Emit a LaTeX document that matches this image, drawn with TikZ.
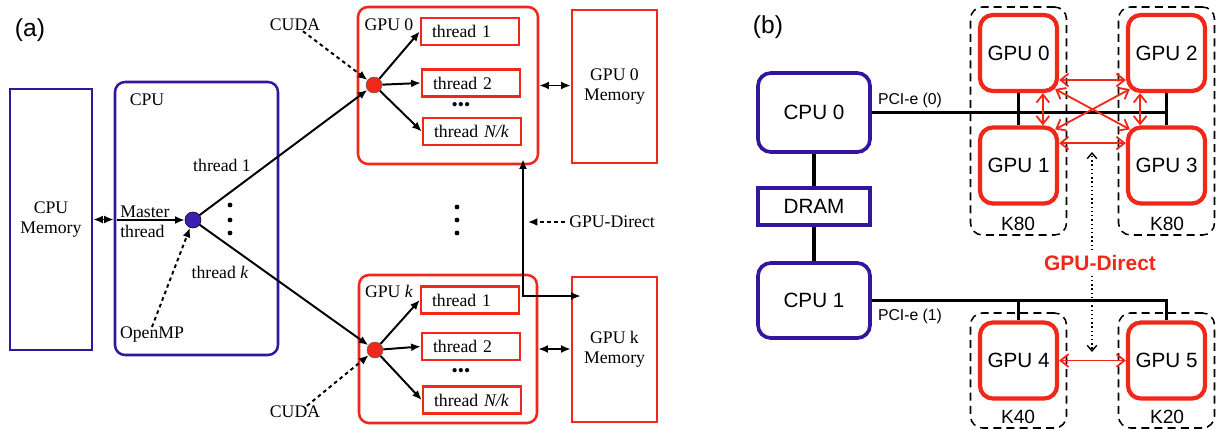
\documentclass[tikz,border=0pt]{standalone}
\usepackage{fontspec}
\setmainfont{Liberation Serif}
\setsansfont{Liberation Sans}
\usetikzlibrary{arrows.meta,calc}
\definecolor{gpured}{RGB}{240,40,25}
\definecolor{cpublue}{RGB}{52,22,158}
\definecolor{dotblue}{RGB}{60,30,180}
\begin{document}
\begin{tikzpicture}[x=0.25mm,y=-0.25mm,
txt/.style={%
font=\fontsize{12.6}{14.5}\selectfont,
inner sep=0pt
},
cpubox/.style={%
draw=cpublue,
line width=1.8pt,
align=center,
txt
},
gpubox/.style={%
draw=gpured,
line width=1.8pt,
align=center,
txt
},
thr/.style={%
gpubox,
text width=19mm,
align=left,
inner xsep=2.75mm,
minimum height=6.75mm
},
cpudot/.style={%
circle,
fill=dotblue,
draw=black,
line width=0.4pt,
minimum size=4mm,
inner sep=0pt
},
gpudot/.style={%
circle,
fill=gpured,
draw=black!60,
line width=0.4pt,
minimum size=4mm,
inner sep=0pt
},
arr/.style={%
line width=1.4pt,
-{Latex[length=2.4mm,width=2mm]}
},
dbl/.style={%
line width=1.4pt,
{Latex[length=2.4mm,width=2mm]}-{Latex[length=2.4mm,width=2mm]}
},
dotarr/.style={%
line width=1.4pt,
dash pattern=on 2.6pt off 2.4pt,
-{Latex[length=2.4mm,width=2mm]}
},
sftxt/.style={%
font=\sffamily\fontsize{14.7}{16}\selectfont,
inner sep=0pt
},
cpub/.style={%
draw=cpublue,
line width=2.6pt,
rounded corners=3.2mm,
minimum width=28mm,
sftxt
},
gpub/.style={%
draw=gpured,
line width=3pt,
rounded corners=3.2mm,
minimum width=19.25mm,
minimum height=19mm,
sftxt
},
card/.style={%
draw,
line width=1.1pt,
dash pattern=on 2mm off 1.3mm,
rounded corners=3mm,
minimum width=24mm
},
bus/.style={%
line width=2.6pt
},
link/.style={%
draw=gpured,
line width=1.3pt,
{Straight Barb[length=2mm,width=3.2mm]}-{Straight Barb[length=2mm,width=3.2mm]}
},
gdline/.style={%
line width=1pt,
dotted,
-{Straight Barb[length=1.4mm,width=2.4mm]}
},
]
\useasboundingbox (0,0) rectangle (1218,430);
%% Panel (a)
\node[font=\sffamily\fontsize{17.5}{20}\selectfont] (alab) at (30,30) {(a)};
%%CPU side
\node[cpubox,minimum width=20.5mm,minimum height=65.25mm] (cpumem) at (51,219.5) {CPU\\Memory};
\node[cpubox,rounded corners=2.5mm,minimum width=40.75mm,minimum height=68.25mm] (cpu) at (196.5,218.5) {};
\node[txt] (cpulbl) at (147,100) {CPU};
\node[cpudot] (master) at (193,220) {};
\node[txt,anchor=west,align=left] (mlbl) at (120,222) {Master\\thread};
\node[txt] (t1lbl) at (222,165) {thread 1};
\node[txt] (tklbl) at (220,272) {thread \textit{k}};
\node[txt] (omp) at (152,335) {OpenMP};
\foreach \y in {205,220,233} \fill (230,\y) circle (0.6mm);
\draw[dbl] (cpumem.east) -- (cpumem.east -| cpu.west);
\draw[arr] ([xshift=0.8mm]cpu.west |- master) -- (master);
\draw[dotarr] (omp.north) -- (master);
%%GPU 0
\node[gpubox,rounded corners=2.5mm,minimum width=45mm,minimum height=39.25mm] (g0) at (448,85.5) {};
\node[txt] (g0lbl) at (389,25) {GPU 0};
\node[gpudot] (d0) at (374,85) {};
\node[thr] (g0t1) at (470,31.5) {thread 1};
\node[thr] (g0t2) at (471,83) {thread 2};
\node[txt] (g0dots) at (461,107) {\textbullet\textbullet\textbullet};
\node[thr] (g0tn) at (472,131.5) {thread \textit{N/k}};
\node[gpubox,minimum width=21.25mm,minimum height=38.25mm] (m0) at (614.5,86.5) {GPU 0\\Memory};
\node[txt] (cuda0) at (295,25) {CUDA};
\foreach \t in {g0t1,g0t2,g0tn} \draw[arr] (d0) -- (\t.west);
\draw[dbl] (g0.east) -- (g0.east -| m0.west);
\draw[dotarr] ([xshift=2mm]cuda0.south) -- (d0);
%%GPU k
\node[gpubox,rounded corners=2.5mm,minimum width=44.5mm,minimum height=37mm] (gk) at (448,349) {};
\node[txt] (gklbl) at (389,291) {GPU \textit{k}};
\node[gpudot] (dk) at (375,350) {};
\node[thr] (gkt1) at (470,300) {thread 1};
\node[thr] (gkt2) at (471,346.5) {thread 2};
\node[txt] (gkdots) at (461,373) {\textbullet\textbullet\textbullet};
\node[thr] (gktn) at (472,400) {thread \textit{N/k}};
\node[gpubox,minimum width=21.25mm,minimum height=36.25mm] (mk) at (614.5,349.5) {GPU k\\Memory};
\node[txt] (cudak) at (295,412) {CUDA};
\foreach \t in {gkt1,gkt2,gktn} \draw[arr] (dk) -- (\t.west);
\draw[dbl] (gk.east) -- (gk.east -| mk.west);
\draw[dotarr] ([xshift=3mm]cudak.north) -- (dk);
%%threads to GPUs
\draw[arr] (master) -- (d0);
\draw[arr] (master) -- (dk);
\foreach \y in {207,220,233} \fill (457,\y) circle (0.6mm);
%%GPU-Direct
\coordinate (gdturn) at (523,296);
\draw[dbl] ([yshift=1.5mm]g0.south -| gdturn) -- (gdturn) -- ([xshift=2.5mm]mk.west |- gdturn);
\node[txt,anchor=west] (gdlbl) at (569,222) {GPU-Direct};
\draw[dotarr] ([xshift=-1mm]gdlbl.west) -- ([xshift=1.2mm]gdlbl.west -| gdturn);
%% Panel (b)
\node[font=\sffamily\fontsize{17.5}{20}\selectfont] (blab) at (768,27) {(b)};
%%cards
\node[card,minimum height=57mm] (k80a) at (1018.5,121) {};
\node[card,minimum height=57mm] (k80b) at (1166.5,121) {};
\node[card,minimum height=28.75mm] (k40) at (1018.5,370.5) {};
\node[card,minimum height=28.75mm] (k20) at (1166.5,370.5) {};
\node[sftxt,font=\sffamily\fontsize{13.6}{16}\selectfont] (k80albl) at (1018,224) {K80};
\node[sftxt,font=\sffamily\fontsize{13.6}{16}\selectfont] (k80blbl) at (1167,224) {K80};
\node[sftxt,font=\sffamily\fontsize{13.6}{16}\selectfont] (k40lbl) at (1018,417) {K40};
\node[sftxt,font=\sffamily\fontsize{13.6}{16}\selectfont] (k20lbl) at (1167,417) {K20};
%%CPUs
\node[cpub,minimum height=19.75mm] (cpu0) at (814,112.5) {CPU 0};
\node[cpub,sharp corners,minimum height=9.25mm] (dram) at (814,206.5) {DRAM};
\node[cpub,minimum height=18.75mm] (cpu1) at (814,300.5) {CPU 1};
%%GPUs
\foreach \n/\x/\y in {0/1018.5/53,1/1018.5/165.5,2/1166.5/53,3/1166.5/165.5,4/1018.5/360.5,5/1166.5/360.5}
  \node[gpub] (gpu\n) at (\x,\y) {GPU \n};
%%PCI-e
\draw[bus] (cpu0) -- (dram);
\draw[bus] (dram) -- (cpu1);
\draw[bus] (cpu0.east) -- (cpu0.east -| gpu2.south);
\draw[bus] (gpu0.south) -- (gpu1.north);
\draw[bus] (gpu2.south) -- (gpu3.north);
\draw[bus] (cpu1.east) -- (cpu1.east -| gpu5.north) -- (gpu5.north);
\draw[bus] (cpu1.east -| gpu4.north) -- (gpu4.north);
\node[sftxt,font=\sffamily\fontsize{11.2}{13}\selectfont] (pci0) at (910,100) {PCI-e (0)};
\node[sftxt,font=\sffamily\fontsize{11.2}{13}\selectfont] (pci1) at (910,316) {PCI-e (1)};
%%links
\draw[link] ([yshift=-6.75mm]gpu0.east) -- ([yshift=-6.75mm]gpu2.west);
\draw[link] ([yshift=5.6mm]gpu1.east) -- ([yshift=5.6mm]gpu3.west);
\draw[link] ([xshift=6.1mm]gpu0.south) -- ([xshift=6.1mm]gpu1.north);
\draw[link] ([xshift=-6.6mm]gpu2.south) -- ([xshift=-6.6mm]gpu3.north);
\draw[link] ([shift={(-1mm,1mm)}]gpu0.south east) -- ([shift={(1mm,-1mm)}]gpu3.north west);
\draw[link] ([shift={(-1mm,-1mm)}]gpu1.north east) -- ([shift={(1mm,1mm)}]gpu2.south west);
\draw[link] (gpu4) -- (gpu5);
%%GPU-Direct
\coordinate (gdtop) at (1092,152);
\coordinate (gdbot) at (1092,352);
\node[font=\sffamily\bfseries\fontsize{14.9}{16}\selectfont,text=gpured,inner xsep=1pt,inner ysep=1.2mm] (gdb) at (1100,263) {GPU-Direct};
\draw[gdline] (gdb.north -| gdtop) -- (gdtop);
\draw[gdline] (gdb.south -| gdbot) -- (gdbot);
\end{tikzpicture}
\end{document}
